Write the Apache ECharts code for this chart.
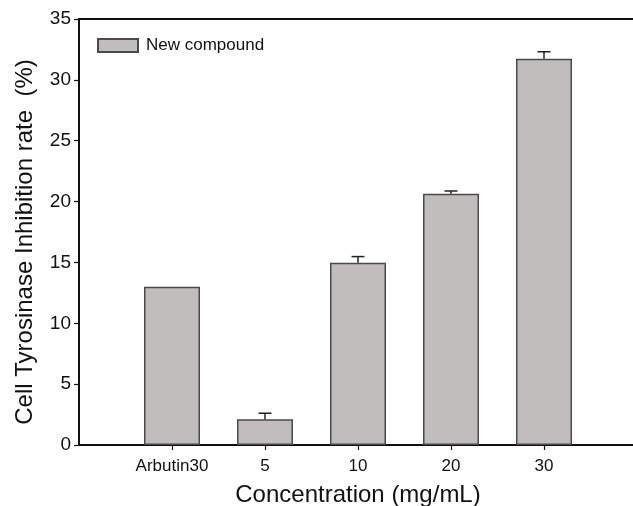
<!DOCTYPE html>
<html>
<head>
<meta charset="utf-8">
<script src="https://cdn.jsdelivr.net/npm/echarts@6/dist/echarts.min.js"></script>
<style>
  html, body { margin: 0; padding: 0; background: #fff; }
</style>
</head>
<body>
<div id="chart" style="width: 633px; height: 506px;"></div>
<script>
  // data
  const categories = ['Arbutin30', '5', '10', '20', '30']
  const inhibition = [13.0, 2.11, 14.98, 20.65, 31.74]
  const errors = [0, 0.5, 0.5, 0.22, 0.57]
  const seriesName = 'New compound'

  // an empty slot each side so the bars sit one band in from the y axis
  const axisCats = [''].concat(categories, [''])
  const barData = ['-'].concat(inhibition, ['-'])
  const errData = categories.map(function (c, i) {
    return [i + 1, inhibition[i], errors[i]]
  })

  const myChart = echarts.init(document.getElementById('chart'))
  const font = 'Liberation Sans, Arial, sans-serif'

  const option = {
    animation: false,
    backgroundColor: '#fff',
    textStyle: { fontFamily: font },
    legend: {
      left: 92,
      top: 32,
      icon: 'rect',
      itemWidth: 40,
      itemHeight: 13,
      textStyle: { fontSize: 17, color: '#111', fontFamily: font, padding: [0, 0, 0, 3] },
      data: [seriesName]
    },
    grid: {
      left: 79,
      top: 19,
      bottom: 61,
      right: -4,
      outerBoundsMode: 'none',
      containLabel: false
    },
    xAxis: [
      {
        type: 'category',
        data: axisCats,
        boundaryGap: false,
        name: 'Concentration (mg/mL)',
        nameLocation: 'middle',
        nameGap: 38,
        nameTextStyle: { fontSize: 24, color: '#111', fontFamily: font },
        axisLine: { lineStyle: { color: '#111', width: 2 } },
        axisTick: {
          length: 5,
          lineStyle: { color: '#111', width: 1.2 },
          interval: function (i) { return i > 0 && i < axisCats.length - 1 }
        },
        axisLabel: { interval: 0, fontSize: 17, color: '#111', margin: 13, fontFamily: font },
        splitLine: { show: false }
      },
      {
        // top frame line only
        type: 'category',
        data: axisCats,
        boundaryGap: false,
        position: 'top',
        axisLine: { lineStyle: { color: '#111', width: 2 } },
        axisTick: { show: false },
        axisLabel: { show: false },
        splitLine: { show: false }
      }
    ],
    yAxis: {
      type: 'value',
      min: 0,
      max: 35,
      interval: 5,
      name: 'Cell Tyrosinase Inhibition rate  (%)',
      nameLocation: 'middle',
      nameGap: 42,
      nameTextStyle: { fontSize: 24, color: '#111', fontFamily: font, padding: [0, 20, 0, 0] },
      axisLine: { show: true, lineStyle: { color: '#111', width: 2 } },
      axisTick: { show: true, length: 5, lineStyle: { color: '#111', width: 1.2 } },
      axisLabel: { fontSize: 19, color: '#111', margin: 8, fontFamily: font },
      splitLine: { show: false }
    },
    series: [
      {
        name: seriesName,
        type: 'bar',
        data: barData,
        barWidth: 56,
        itemStyle: {
          color: '#c1bdbc',
          borderColor: '#4a4a4a',
          borderWidth: 1.5
        }
      },
      {
        name: 'err',
        type: 'custom',
        data: errData,
        z: 5,
        renderItem: function (params, api) {
          const idx = api.value(0)
          const val = api.value(1)
          const err = api.value(2)
          if (!err) return
          const base = api.coord([idx, val])
          const top = api.coord([idx, val + err])
          const half = 6.5
          const style = { stroke: '#222', lineWidth: 1.5 }
          return {
            type: 'group',
            children: [
              { type: 'line', shape: { x1: base[0], y1: base[1], x2: top[0], y2: top[1] }, style: style },
              { type: 'line', shape: { x1: top[0] - half, y1: top[1], x2: top[0] + half, y2: top[1] }, style: style }
            ]
          }
        }
      }
    ]
  }

  myChart.setOption(option)
</script>
</body>
</html>
